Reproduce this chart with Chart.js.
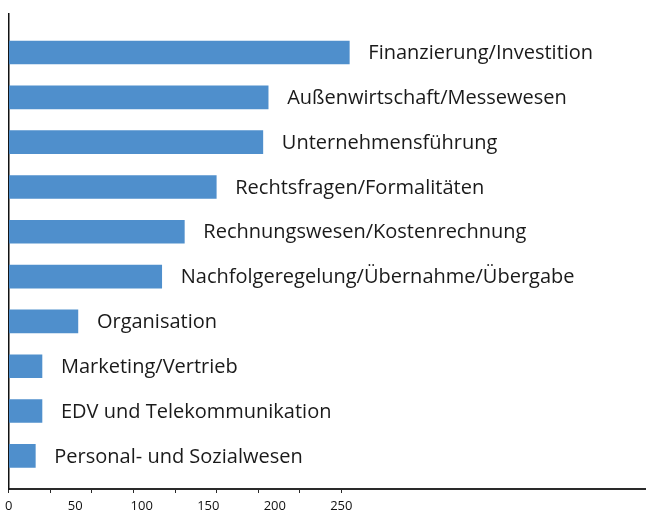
<!DOCTYPE html>
<html>
<head>
  <meta charset="utf-8" />
  <title>Themen</title>
  <script src="https://cdn.jsdelivr.net/npm/chart.js"></script>
  <style>
    body { background: white; margin: 0; }
    #wrap { width: 646px; height: 514px; }
  </style>
</head>
<body>
  <div id="wrap"><canvas id="barChart" width="646" height="514"></canvas></div>
  <script>
    const categories = [
      'Finanzierung/Investition',
      'Außenwirtschaft/Messewesen',
      'Unternehmensführung',
      'Rechtsfragen/Formalitäten',
      'Rechnungswesen/Kostenrechnung',
      'Nachfolgeregelung/Übernahme/Übergabe',
      'Organisation',
      'Marketing/Vertrieb',
      'EDV und Telekommunikation',
      'Personal- und Sozialwesen'
    ];
    const values = [256, 195, 191, 156, 132, 115, 52, 25, 25, 20];
    const tickLabels = [0, 50, 100, 150, 200, 250];
    const tickMarks = [0, 31.25, 62.5, 93.75, 125, 156.25, 187.5, 218.75, 250];

    const barColor = '#4f8fcc';
    const textFont = '"Open Sans", sans-serif';

    // category names written to the right of each bar
    const barLabels = {
      id: 'barLabels',
      afterDatasetsDraw(chart) {
        const ctx = chart.ctx;
        const meta = chart.getDatasetMeta(0);
        ctx.save();
        ctx.font = '20px ' + textFont;
        ctx.fillStyle = '#1a1a1a';
        ctx.textBaseline = 'middle';
        ctx.textAlign = 'left';
        meta.data.forEach((bar, i) => {
          ctx.fillText(categories[i], bar.x + 19, bar.y + 1);
        });
        ctx.restore();
      }
    };

    const allTicks = Array.from(new Set(tickMarks.concat(tickLabels))).sort((a, b) => a - b);

    new Chart(document.getElementById('barChart'), {
      type: 'bar',
      data: {
        datasets: [{
          data: values.map((v, i) => ({ x: v, y: i })),
          backgroundColor: barColor,
          borderWidth: 0,
          barThickness: 23
        }]
      },
      options: {
        indexAxis: 'y',
        responsive: false,
        animation: false,
        layout: { padding: { top: 14, right: 0, left: 0, bottom: 0 } },
        plugins: {
          legend: { display: false },
          tooltip: { enabled: false }
        },
        scales: {
          x: {
            type: 'linear',
            min: 0,
            max: 479,
            afterBuildTicks: (scale) => {
              scale.ticks = allTicks.map(v => ({ value: v }));
            },
            afterFit: (scale) => { scale.height = 25; },
            border: { display: true, color: '#2a2a2a', width: 2 },
            grid: {
              drawOnChartArea: false,
              drawTicks: true,
              tickLength: 4,
              tickColor: (c) => tickMarks.includes(c.tick.value) ? '#2a2a2a' : 'rgba(0,0,0,0)'
            },
            ticks: {
              autoSkip: false,
              maxRotation: 0,
              padding: 5,
              color: '#111',
              font: { family: textFont, size: 13 },
              callback: (v) => tickLabels.includes(v) ? String(v) : ''
            }
          },
          y: {
            type: 'linear',
            reverse: true,
            offset: false,
            min: -0.86,
            max: 9.74,
            afterFit: (scale) => { scale.width = 8; },
            border: { display: true, color: '#111', width: 1.5 },
            grid: { display: false, offset: false },
            ticks: { display: false }
          }
        }
      },
      plugins: [barLabels]
    });
  </script>
</body>
</html>
